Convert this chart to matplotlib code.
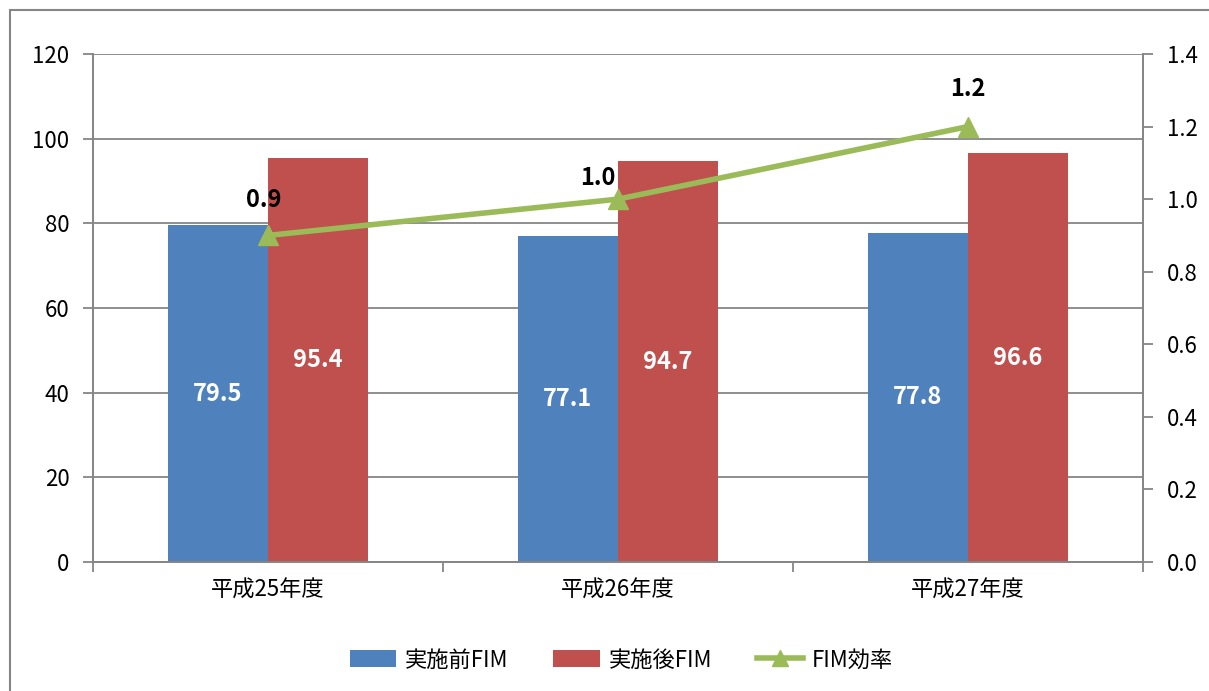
import numpy as np
import matplotlib.pyplot as plt
from matplotlib.patches import Rectangle

plt.rcParams['font.family'] = ['Noto Sans CJK JP', 'DejaVu Sans']

categories = ['平成25年度', '平成26年度', '平成27年度']
before_fim = [79.5, 77.1, 77.8]
after_fim = [95.4, 94.7, 96.6]
efficiency = [0.9, 1.0, 1.2]

blue = '#4F81BD'
red = '#C0504D'
green = '#9BBB59'
gray = '#868686'

fig = plt.figure(figsize=(12.09, 6.91), dpi=100)
# outer chart border
fig.patches.append(Rectangle((10 / 1209, -0.01), 1.0, 1 - 10 / 691 + 0.01,
                             transform=fig.transFigure, fill=False,
                             edgecolor=gray, linewidth=1.5))

ax = fig.add_axes([93 / 1209, 1 - 562 / 691, 1050 / 1209, 508 / 691])
ax2 = ax.twinx()

x = np.arange(len(categories))
w = 100 / 350
b1 = ax.bar(x - w / 2, before_fim, w, color=blue, label='実施前FIM', zorder=2)
b2 = ax.bar(x + w / 2, after_fim, w, color=red, label='実施後FIM', zorder=2)

for bars, vals in ((b1, before_fim), (b2, after_fim)):
    for rect, v in zip(bars, vals):
        ax.text(rect.get_x() + rect.get_width() / 2, v / 2, f'{v:.1f}', ha='center',
                va='center', color='white', fontsize=17, fontweight='bold')

ln, = ax2.plot(x, efficiency, color=green, linewidth=4, marker='^', markersize=15,
               label='FIM効率', zorder=3)
# label offsets in pixels, as Excel placed them
offsets = [(-4, 35), (-20, 21), (0, 38)]
for xi, v, off in zip(x, efficiency, offsets):
    ax2.annotate(f'{v:.1f}', (xi, v), xytext=off, textcoords='offset pixels',
                 ha='center', va='center', fontsize=17, fontweight='bold', color='black')

ax.set_xlim(-0.5, 2.5)
ax.set_ylim(0, 120)
ax.set_yticks(np.arange(0, 121, 20))
ax2.set_ylim(0, 1.4)
ax2.set_yticks(np.arange(0, 1.41, 0.2))
ax2.set_yticklabels([f'{t:.1f}' for t in np.arange(0, 1.41, 0.2)])

ax.set_xticks(x)
ax.set_xticklabels(categories)
ax.set_xticks([-0.5, 0.5, 1.5, 2.5], minor=True)
ax.tick_params(axis='x', which='major', length=0, labelsize=16, pad=12)
ax.tick_params(axis='x', which='minor', length=7, color=gray, width=1.3)
ax.tick_params(axis='y', length=7, color=gray, width=1.3, labelsize=16, pad=10)
ax2.tick_params(axis='y', length=7, color=gray, width=1.3, labelsize=16, pad=10)

ax.grid(axis='y', color=gray, linewidth=1.3, zorder=0)
ax.set_axisbelow(True)
for a in (ax, ax2):
    a.spines['top'].set_visible(False)
    for s in ('left', 'right', 'bottom'):
        a.spines[s].set_color(gray)
        a.spines[s].set_linewidth(1.3)

handles = [b1, b2, ln]
fig.legend(handles, [h.get_label() for h in handles], loc='center',
           bbox_to_anchor=(0.514, 1 - 660 / 691), ncol=3, frameon=False,
           fontsize=16, handlelength=2.1, handleheight=0.8, columnspacing=2.0,
           handletextpad=0.4, markerscale=0.8)

fig.savefig('out.png', dpi=100)
